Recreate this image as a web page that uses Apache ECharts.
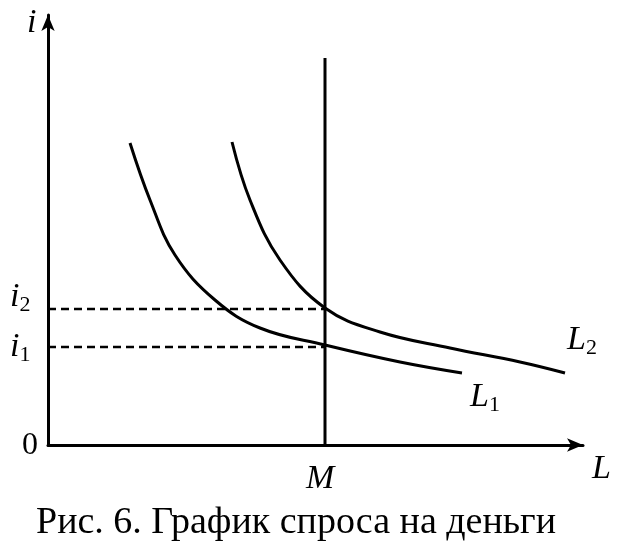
<!DOCTYPE html>
<html><head><meta charset="utf-8">
<script src="https://cdn.jsdelivr.net/npm/echarts@6/dist/echarts.min.js"></script>
<style>body{margin:0;background:#fff}#c{width:632px;height:552px}</style>
</head><body><div id="c"></div>
<script>
// curve points (x = L, y = i)
var curveL1 = [[82,302],[102,245],[127,190],[167,145],[212,117],[277,100],[352,83],[414,72]];
var curveL2 = [[184,303],[202,245],[232,185],[277,137],[332,113],[402,97],[472,83],[517,72]];
var moneyM = 277;
var rateI1 = 98;
var rateI2 = 136;
var X_MAX = 535;
var Y_MAX = 430;

var font = '"Liberation Serif", "DejaVu Serif", serif';

function line(data, dashed, smooth) {
  return {
    type: 'line', data: data, smooth: smooth ? 0.4 : false, symbol: 'none',
    lineStyle: { color: '#000', width: dashed ? 2.5 : 3, type: dashed ? [8, 5] : 'solid' }
  };
}

function sub(main, idx) {
  return {
    rich: { a: { font: 'italic 34px ' + font }, b: { font: '22px ' + font, padding: [16, 0, 0, 0] } },
    text: '{a|' + main + '}{b|' + idx + '}'
  };
}

var chart = echarts.init(document.getElementById('c'));
chart.setOption({
  animation: false,
  grid: { left: 48, right: 49, top: 15, bottom: 107 },
  xAxis: {
    type: 'value', min: 0, max: X_MAX,
    axisLine: { lineStyle: { color: '#000', width: 3 }, symbol: ['none', 'arrow'], symbolSize: [10, 16] },
    axisTick: { show: false }, axisLabel: { show: false }, splitLine: { show: false }
  },
  yAxis: {
    type: 'value', min: 0, max: Y_MAX,
    axisLine: { show: true, lineStyle: { color: '#000', width: 3 }, symbol: ['none', 'arrow'], symbolSize: [10, 16] },
    axisTick: { show: false }, axisLabel: { show: false }, splitLine: { show: false }
  },
  series: [
    line(curveL1, false, true),
    line(curveL2, false, true),
    line([[moneyM, 0], [moneyM, 387]], false, false),
    line([[0, rateI2], [moneyM, rateI2]], true, false),
    line([[0, rateI1], [moneyM, rateI1]], true, false)
  ],
  graphic: [
    { type: 'text', left: 27, top: 6, style: { text: 'i', font: 'italic 34px ' + font, fill: '#000' } },
    { type: 'text', left: 592, top: 452, style: { text: 'L', font: 'italic 34px ' + font, fill: '#000' } },
    { type: 'text', left: 306, top: 462, style: { text: 'M', font: 'italic 34px ' + font, fill: '#000' } },
    { type: 'text', left: 22, top: 430, style: { text: '0', font: '32px ' + font, fill: '#000' } },
    { type: 'text', left: 10, top: 280, style: sub('i', '2') },
    { type: 'text', left: 10, top: 330, style: sub('i', '1') },
    { type: 'text', left: 567, top: 323, style: sub('L', '2') },
    { type: 'text', left: 470, top: 380, style: sub('L', '1') },
    { type: 'text', left: 36, top: 504, style: { text: 'Рис. 6. График спроса на деньги', font: '38px ' + font, fill: '#000' } }
  ]
});
</script>
</body></html>
